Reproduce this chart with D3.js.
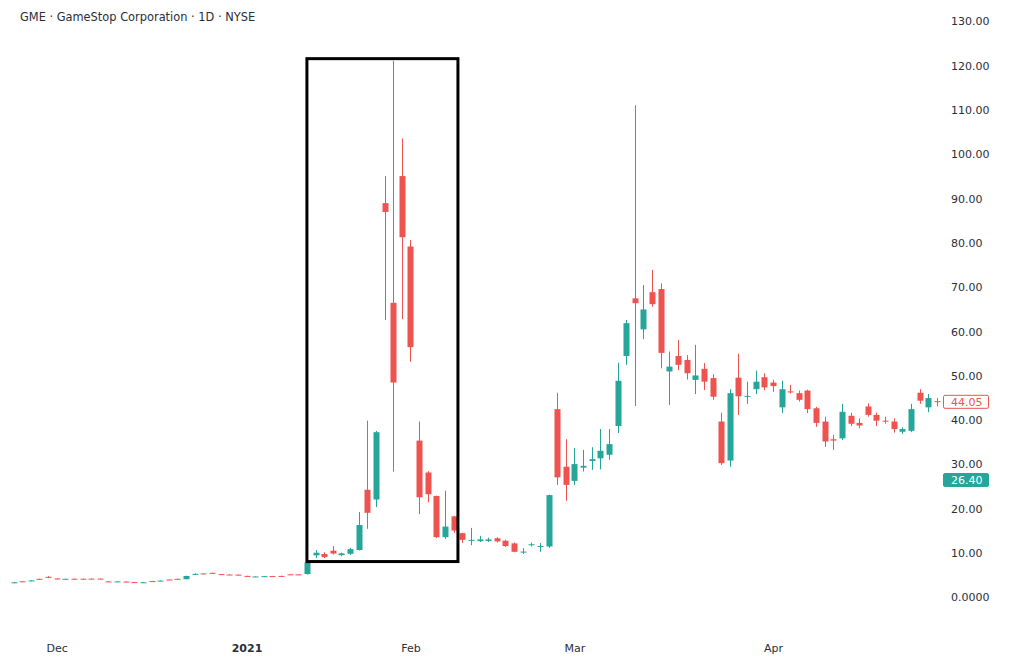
<!DOCTYPE html>
<html>
<head>
<meta charset="utf-8">
<script src="https://cdn.jsdelivr.net/npm/d3@7"></script>
<style>
  html, body { margin: 0; padding: 0; background: #ffffff; }
  svg { display: block; }
</style>
</head>
<body>
<svg id="chart" width="1024" height="661"></svg>
<script>
// ---------------- DATA ----------------
const dates = [
  "2020-11-23","2020-11-24","2020-11-25","2020-11-27","2020-11-30",
  "2020-12-01","2020-12-02","2020-12-03","2020-12-04","2020-12-07","2020-12-08","2020-12-09","2020-12-10","2020-12-11",
  "2020-12-14","2020-12-15","2020-12-16","2020-12-17","2020-12-18","2020-12-21","2020-12-22","2020-12-23","2020-12-24",
  "2020-12-28","2020-12-29","2020-12-30","2020-12-31",
  "2021-01-04","2021-01-05","2021-01-06","2021-01-07","2021-01-08","2021-01-11","2021-01-12","2021-01-13","2021-01-14",
  "2021-01-15","2021-01-19","2021-01-20","2021-01-21","2021-01-22","2021-01-25","2021-01-26","2021-01-27","2021-01-28","2021-01-29",
  "2021-02-01","2021-02-02","2021-02-03","2021-02-04","2021-02-05","2021-02-08","2021-02-09","2021-02-10","2021-02-11","2021-02-12",
  "2021-02-16","2021-02-17","2021-02-18","2021-02-19","2021-02-22","2021-02-23","2021-02-24","2021-02-25","2021-02-26",
  "2021-03-01","2021-03-02","2021-03-03","2021-03-04","2021-03-05","2021-03-08","2021-03-09","2021-03-10","2021-03-11","2021-03-12",
  "2021-03-15","2021-03-16","2021-03-17","2021-03-18","2021-03-19","2021-03-22","2021-03-23","2021-03-24","2021-03-25","2021-03-26",
  "2021-03-29","2021-03-30","2021-03-31",
  "2021-04-01","2021-04-05","2021-04-06","2021-04-07","2021-04-08","2021-04-09","2021-04-12","2021-04-13","2021-04-14","2021-04-15",
  "2021-04-16","2021-04-19","2021-04-20","2021-04-21","2021-04-22","2021-04-23","2021-04-26","2021-04-27","2021-04-28","2021-04-29"
];
const open = [
  3.20,3.55,3.62,4.10,4.55,
  4.18,4.02,4.12,4.12,4.14,4.14,3.52,3.45,3.48,
  3.36,3.26,3.60,3.62,3.95,4.10,4.02,5.18,5.32,
  5.45,5.16,5.08,5.04,
  4.76,4.58,4.62,4.72,4.76,5.12,5.10,5.18,9.40,
  9.70,10.45,9.45,9.75,10.60,24.20,22.00,88.90,66.40,95.00,
  79.10,35.30,28.10,22.80,13.50,18.20,14.40,12.75,12.60,12.65,
  13.25,12.70,12.10,10.15,11.75,11.35,11.40,42.40,29.40,
  26.20,29.20,30.70,31.30,32.10,38.60,54.40,67.40,60.40,68.80,
  69.50,50.90,54.40,53.50,49.00,51.50,49.40,39.60,30.80,49.50,
  45.20,46.90,49.60,
  48.40,42.80,46.40,46.00,46.60,42.60,39.60,35.60,35.80,40.90,
  39.30,43.00,41.10,39.80,39.60,37.30,37.50,46.10,42.80,44.20
];
const high = [
  3.40,3.60,3.80,4.15,4.70,
  4.25,4.15,4.18,4.18,4.20,4.20,3.58,3.58,3.52,
  3.42,3.38,3.64,3.76,4.00,4.14,4.82,5.35,5.36,
  5.50,5.20,5.12,5.08,
  4.80,4.68,4.74,4.76,4.80,5.16,5.14,8.00,10.60,
  10.10,11.50,10.00,11.10,19.20,39.80,37.50,95.00,121.00,103.50,
  80.60,39.60,28.40,22.90,24.00,18.30,14.50,15.60,13.80,13.40,
  13.50,12.90,12.30,11.00,12.30,12.20,23.10,46.10,35.60,
  33.60,33.20,33.80,37.90,37.90,52.90,62.50,111.00,70.40,73.80,
  70.80,55.40,58.00,54.60,56.90,52.80,50.30,41.60,46.90,54.90,
  48.60,51.10,50.50,
  49.00,48.80,47.90,46.60,46.80,42.90,40.70,36.60,43.60,41.60,
  40.30,43.70,41.60,40.70,40.30,38.30,43.60,46.90,45.80,44.90
];
const low = [
  3.10,3.42,3.58,3.98,4.25,
  4.02,3.98,4.02,4.02,4.04,4.05,3.42,3.40,3.36,
  3.24,3.20,3.48,3.58,3.85,3.98,3.96,5.00,5.20,
  5.32,5.04,4.98,4.94,
  4.62,4.55,4.58,4.62,4.66,5.02,5.00,5.05,8.80,
  8.80,9.60,9.20,9.50,10.50,15.40,20.30,62.50,28.30,62.70,
  53.10,18.70,21.40,13.30,13.10,14.50,12.20,11.70,12.40,12.40,
  12.30,11.30,10.10,9.70,11.40,10.20,11.10,25.30,21.70,
  25.30,28.30,28.70,28.80,31.00,37.00,52.40,43.10,58.20,65.50,
  51.60,43.30,51.20,49.10,45.80,46.70,44.50,29.80,29.40,41.10,
  43.60,45.80,46.70,
  46.30,41.50,45.90,44.10,41.50,38.40,33.90,33.20,35.40,38.60,
  38.10,40.70,38.60,39.10,37.10,36.80,37.20,43.60,41.70,43.00
];
const close = [
  3.32,3.48,3.74,4.04,4.32,
  4.08,4.10,4.06,4.06,4.08,4.09,3.47,3.52,3.42,
  3.30,3.32,3.54,3.70,3.90,4.04,4.74,5.22,5.26,
  5.38,5.10,5.02,4.98,
  4.68,4.64,4.70,4.66,4.70,5.06,5.04,7.78,10.00,
  9.00,9.80,9.85,10.80,16.25,19.00,37.20,86.90,48.40,81.20,
  56.40,22.50,23.20,13.50,15.90,15.00,12.90,12.90,13.00,13.00,
  12.55,11.50,10.20,10.25,11.90,11.50,23.00,27.00,25.30,
  30.00,29.60,31.10,33.00,34.50,48.80,61.80,66.30,64.90,66.10,
  55.10,52.00,52.40,50.50,50.00,48.60,45.20,30.20,46.00,45.30,
  45.40,48.60,47.30,
  47.60,46.90,46.20,44.50,42.40,39.30,35.10,35.30,41.80,39.10,
  38.70,41.10,39.80,39.70,37.90,37.90,42.40,44.30,44.90,44.05
];

const title = "GME · GameStop Corporation · 1D · NYSE";
const yTicks = [0,10,20,30,40,50,60,70,80,90,100,110,120,130];
const yTickLabels = ["0.0000","10.00","20.00","30.00","40.00","50.00","60.00","70.00","80.00","90.00","100.00","110.00","120.00","130.00"];
const xTickDates = ["2020-12-01","2021-01-04","2021-02-01","2021-03-01","2021-04-01"];
const xTickLabels = ["Dec","2021","Feb","Mar","Apr"];
const xTickBold = [false,true,false,false,false];
const lastPrice = 44.05;
const markerPrice = 26.40;
const highlightDates = ["2021-01-13","2021-02-08"];
const highlightPrices = [8, 121.5];

// ---------------- DRAW ----------------
const upColor = "#26a69a", downColor = "#ef5350";
const svg = d3.select("#chart");
const W = 1024, H = 661;
svg.append("rect").attr("width", W).attr("height", H).attr("fill", "#ffffff");

const n = dates.length;
const x = d3.scaleLinear().domain([0, n - 1]).range([13.5, 936.9]);
const step = x(1) - x(0);
const y = d3.scaleLinear().domain([0, 130]).range([597, 21]);
const idx = d => dates.indexOf(d);

// title
svg.append("text").attr("x", 20).attr("y", 21)
  .attr("font-family", "DejaVu Sans").attr("font-size", 11.4).attr("fill", "#2a2e39")
  .text(title);

// y axis labels
const yAxis = d3.axisRight(y).tickValues(yTicks).tickSize(0)
  .tickFormat((d, i) => yTickLabels[i]);
const yg = svg.append("g").attr("transform", "translate(951,0)").call(yAxis);
yg.select(".domain").remove();
yg.selectAll("text").attr("x", 0).attr("dy", "0.35em")
  .attr("font-family", "DejaVu Sans").attr("font-size", 11).attr("fill", "#2a2e39")
  .attr("text-anchor", "start");

// x axis labels
const xAxis = d3.axisBottom(x).tickValues(xTickDates.map(idx)).tickSize(0)
  .tickFormat((d, i) => xTickLabels[i]);
const xg = svg.append("g").attr("transform", "translate(0,644)").call(xAxis);
xg.select(".domain").remove();
xg.selectAll("text").attr("y", 0).attr("dy", "0.75em")
  .attr("font-family", "DejaVu Sans").attr("font-size", 11).attr("fill", "#2a2e39")
  .attr("font-weight", (d, i) => xTickBold[i] ? "bold" : "normal");

// candles
const bars = d3.range(n).map(i => ({i, o: open[i], h: high[i], l: low[i], c: close[i]}));
const bodyW = 6;
const g = svg.append("g");
g.selectAll("line.wick").data(bars).join("line")
  .attr("class", "wick")
  .attr("x1", d => Math.round(x(d.i)) + 0.5).attr("x2", d => Math.round(x(d.i)) + 0.5)
  .attr("y1", d => y(d.h)).attr("y2", d => y(d.l))
  .attr("stroke", d => d.c >= d.o ? upColor : downColor).attr("stroke-width", 1);
g.selectAll("rect.body").data(bars).join("rect")
  .attr("class", "body")
  .attr("x", d => Math.round(x(d.i)) + 0.5 - bodyW / 2)
  .attr("width", bodyW)
  .attr("y", d => y(Math.max(d.o, d.c)))
  .attr("height", d => Math.max(1, Math.abs(y(d.o) - y(d.c))))
  .attr("fill", d => d.c >= d.o ? upColor : downColor);

// highlight box
const hx0 = x(idx(highlightDates[0]));
const hx1 = x(idx(highlightDates[1])) + step / 2;
svg.append("rect")
  .attr("x", hx0).attr("y", y(highlightPrices[1]))
  .attr("width", hx1 - hx0).attr("height", y(highlightPrices[0]) - y(highlightPrices[1]))
  .attr("fill", "none").attr("stroke", "#000").attr("stroke-width", 3);

// price tags
function tag(v, filled, color) {
  const cy = y(v);
  svg.append("rect").attr("x", 943.5).attr("y", cy - 6.5).attr("width", 45).attr("height", 13)
    .attr("rx", 1.5)
    .attr("fill", filled ? color : "#ffffff").attr("stroke", color).attr("stroke-width", 1);
  svg.append("text").attr("x", 951).attr("y", cy).attr("dy", "0.35em")
    .attr("font-family", "DejaVu Sans").attr("font-size", 11)
    .attr("fill", filled ? "#ffffff" : color).text(v.toFixed(2));
}
tag(lastPrice, false, downColor);
tag(markerPrice, true, upColor);
</script>
</body>
</html>
